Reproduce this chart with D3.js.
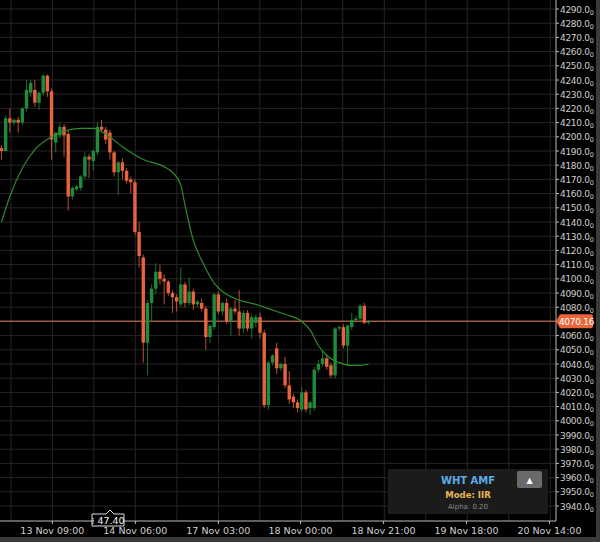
<!DOCTYPE html>
<html><head><meta charset="utf-8">
<script src="https://cdn.jsdelivr.net/npm/d3@7"></script>
<style>body{margin:0;background:#000}svg{display:block;font-family:"DejaVu Sans",sans-serif}</style>
</head><body><div id="chart"></div>
<script>
// candles: open, high, low, close
var opens  = [4192,4190,4213,4210,4212,4210,4220,4231,4233,4224,4231,4243,4232,4196,4201,4207,4202,4158,4163,4164,4172,4186,4183,4189,4207,4205,4203,4189,4175,4182,
              4176,4170,4168,4133,4115,4055,4083,4093,4105,4100,4098,4090,4087,4082,4096,4083,4091,4082,4083,4079,4059,4066,4089,4077,4083,4070,4079,4077,4065,4076,
              4065,4069,4073,4062,4011,4041,4051,4037,4040,4025,4017,4013,4008,4020,4009,4009,4036,4040,4044,4039,4032,4065,4066,4053,4066,4071,4072,4081,4069];
var highs  = [4194,4215,4220,4213,4214,4221,4240,4240,4240,4232,4244,4244,4234,4203,4210,4209,4204,4165,4166,4173,4189,4188,4191,4210,4212,4207,4205,4190,4183,4185,
              4178,4172,4170,4140,4117,4085,4096,4111,4110,4103,4099,4092,4089,4108,4098,4101,4093,4085,4086,4081,4068,4090,4091,4084,4086,4080,4085,4092,4078,4078,
              4075,4075,4076,4064,4042,4047,4055,4041,4045,4035,4019,4015,4024,4022,4014,4038,4043,4050,4047,4041,4066,4067,4068,4068,4076,4074,4082,4083,4071];
var lows   = [4184,4190,4203,4208,4203,4208,4218,4228,4221,4219,4229,4228,4184,4189,4199,4186,4148,4156,4162,4162,4170,4171,4176,4187,4203,4195,4184,4172,4159,4170,
              4167,4160,4131,4108,4041,4032,4070,4089,4096,4082,4088,4076,4077,4080,4080,4081,4078,4080,4077,4050,4055,4064,4075,4074,4068,4060,4075,4060,4062,4063,
              4058,4066,4058,4009,4008,4039,4033,4035,4023,4012,4009,4006,4006,4006,4004,4007,4034,4038,4036,4030,4030,4063,4051,4040,4064,4069,4070,4068,4068];
var closes = [4190,4213,4210,4212,4210,4220,4233,4238,4224,4231,4243,4232,4198,4203,4207,4201,4158,4164,4165,4172,4186,4184,4190,4207,4205,4198,4189,4175,4182,4176,
              4169,4168,4133,4116,4055,4083,4093,4105,4100,4098,4090,4087,4084,4096,4083,4091,4082,4084,4079,4059,4067,4089,4077,4083,4070,4079,4077,4065,4076,4065,
              4073,4073,4062,4011,4041,4046,4037,4040,4025,4015,4013,4009,4020,4008,4013,4036,4040,4044,4038,4032,4065,4066,4053,4067,4071,4072,4081,4069,4070.16];
// IIR filter line: candle index, value
var filterIdx = [0,2,5,8,12,15,19,22,25,29,34,39,41,43,44,46,48,51,53,57,61,64,68,72,74,76,78,81,84,86,88];
var filterVal = [4140,4158,4178,4191,4200,4204,4206,4206,4202,4193,4184,4179,4175,4166,4152,4127,4113,4097,4091,4085,4082,4079,4075,4070,4064,4053,4046,4041,4039,4039,4040];
var timeTickPos = [12.2,32.1,52,71.7,91.6,111.5,131.4];
var timeTickLabels = ["13 Nov 09:00","14 Nov 06:00","17 Nov 03:00","18 Nov 00:00","18 Nov 21:00","19 Nov 18:00","20 Nov 14:00"];
var lastPrice = 4070.16;

var W = 600, H = 542, plotR = 556, plotB = 521;
var svg = d3.select("#chart").append("svg").attr("width", W).attr("height", H);
svg.append("rect").attr("width", W).attr("height", H).attr("fill", "#3a3a3a");
svg.append("rect").attr("width", 596).attr("height", 537).attr("fill", "#000");

var x = d3.scaleLinear().domain([0, 1]).range([1.5, 5.67]);
var y = d3.scaleLinear().domain([3940, 4290]).range([506, 9]);

// grid
var g = svg.append("g");
g.selectAll(".hg").data(d3.range(3940, 4291, 10)).enter().append("line")
    .attr("x1", 0).attr("x2", plotR).attr("y1", d => y(d)).attr("y2", d => y(d))
    .attr("stroke", "#262626");
var vgrid = d3.range(timeTickPos[0] - 9.95, 140, 9.95);
g.selectAll(".vg").data(vgrid).enter().append("line")
    .attr("x1", d => x(d)).attr("x2", d => x(d)).attr("y1", 0).attr("y2", plotB)
    .attr("stroke", "#262626");

// last price line
svg.append("line").attr("x1", 0).attr("x2", plotR).attr("y1", y(lastPrice)).attr("y2", y(lastPrice))
    .attr("stroke", "#e07a5a").attr("stroke-width", 1);

// candles
var up = "#1f8c3c", down = "#e8643c";
var idx = d3.range(opens.length);
var c = svg.append("g");
c.selectAll(".wick").data(idx).enter().append("line")
    .attr("x1", i => x(i)).attr("x2", i => x(i))
    .attr("y1", i => y(highs[i])).attr("y2", i => y(lows[i]))
    .attr("stroke", i => closes[i] >= opens[i] ? up : down).attr("stroke-width", 1).attr("opacity", 0.8);
c.selectAll(".body").data(idx).enter().append("rect")
    .attr("x", i => x(i) - 1.7).attr("width", 3.4)
    .attr("y", i => y(Math.max(opens[i], closes[i])))
    .attr("height", i => Math.max(1, Math.abs(y(opens[i]) - y(closes[i]))))
    .attr("fill", i => closes[i] >= opens[i] ? up : down);

// filter line
var line = d3.line().x(d => x(d[0])).y(d => y(d[1])).curve(d3.curveMonotoneX);
svg.append("path").datum(d3.zip(filterIdx, filterVal)).attr("d", line)
    .attr("fill", "none").attr("stroke", "#2f8a2a").attr("stroke-width", 1.2);

// axes
svg.append("line").attr("x1", plotR).attr("x2", plotR).attr("y1", 0).attr("y2", plotB).attr("stroke", "#bbb");
svg.append("line").attr("x1", 0).attr("x2", plotR).attr("y1", plotB).attr("y2", plotB).attr("stroke", "#bbb");
var yticks = d3.range(3940, 4291, 10).filter(d => Math.abs(d - lastPrice) > 4);
var yl = svg.append("g").selectAll("g").data(yticks).enter().append("g");
yl.append("line").attr("x1", plotR).attr("x2", plotR + 3).attr("y1", d => y(d)).attr("y2", d => y(d)).attr("stroke", "#bbb");
var yt = yl.append("text").attr("x", plotR + 4).attr("y", d => y(d) + 3.5)
    .attr("fill", "#cfcfcf").attr("font-size", 9).attr("letter-spacing", -0.3);
yt.append("tspan").text(d => d3.format(".1f")(d));
yt.append("tspan").attr("font-size", 6.5).attr("dy", 2).text("0");

var xl = svg.append("g").selectAll("g").data(timeTickPos).enter().append("g");
xl.append("line").attr("x1", d => x(d)).attr("x2", d => x(d)).attr("y1", plotB).attr("y2", plotB + 3).attr("stroke", "#bbb");
xl.append("text").attr("x", d => x(d)).attr("y", 534).attr("text-anchor", "middle")
    .attr("fill", "#cfcfcf").attr("font-size", 9.5).text((d, i) => timeTickLabels[i]);

// price tag
var py = y(lastPrice);
svg.append("path").attr("d", "M" + plotR + "," + py + " l4,-7 h31 a2,2 0 0 1 2,2 v10 a2,2 0 0 1 -2,2 h-31 z").attr("fill", "#e8663a");
svg.append("text").attr("x", plotR + 20.5).attr("y", py + 3.5).attr("text-anchor", "middle")
    .attr("fill", "#fff").attr("font-size", 9).attr("letter-spacing", -0.3)
    .text(d3.format(".2f")(lastPrice));

// cursor label
svg.append("path").attr("d", "M92,514 h14 l4,-4 l4,4 h10 v12 h-32 z").attr("fill", "#000").attr("stroke", "#ddd");
svg.append("text").attr("x", 108).attr("y", 523.5).attr("text-anchor", "middle").attr("fill", "#eee")
    .attr("font-size", 9.5).text("⁞ 47.40");

// legend panel
svg.append("rect").attr("x", 388).attr("y", 469).attr("width", 160).attr("height", 45).attr("fill", "#1b1b1b");
svg.append("text").attr("x", 468).attr("y", 484).attr("text-anchor", "middle").attr("fill", "#5aaee8")
    .attr("font-size", 10).attr("font-weight", "bold").text("WHT AMF");
svg.append("text").attr("x", 468).attr("y", 498).attr("text-anchor", "middle").attr("fill", "#e8b554")
    .attr("font-size", 8.5).attr("font-weight", "bold").text("Mode: IIR");
svg.append("text").attr("x", 468).attr("y", 509).attr("text-anchor", "middle").attr("fill", "#8a8a8a")
    .attr("font-size", 7).text("Alpha: 0.20");
svg.append("rect").attr("x", 517).attr("y", 471).attr("width", 25).attr("height", 17).attr("rx", 2).attr("fill", "#6a6a6a");
svg.append("text").attr("x", 529.5).attr("y", 483).attr("text-anchor", "middle").attr("fill", "#fff")
    .attr("font-size", 8).text("▲");
</script></body></html>
